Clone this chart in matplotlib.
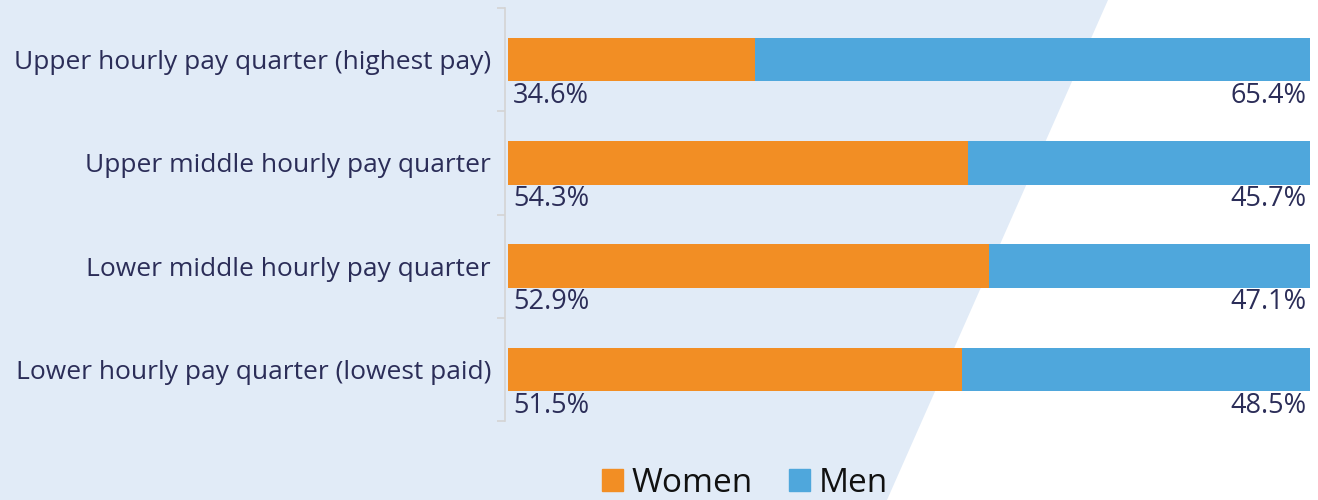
import matplotlib.pyplot as plt
from matplotlib.patches import Polygon, Rectangle

# categories, top to bottom
quarters = [
    "Upper hourly pay quarter (highest pay)",
    "Upper middle hourly pay quarter",
    "Lower middle hourly pay quarter",
    "Lower hourly pay quarter (lowest paid)",
]
# printed labels
women_pct = [34.6, 54.3, 52.9, 51.5]
men_pct = [65.4, 45.7, 47.1, 48.5]
# bar lengths as drawn in the picture (women share of the full bar)
women_bar = [30.8, 57.4, 60.0, 56.6]
men_bar = [100 - w for w in women_bar]

ORANGE = "#f28e24"
BLUE = "#4fa7dc"
NAVY = "#2b2d58"
BG = "#e1ebf7"

plt.rcParams["font.family"] = ["Open Sans", "DejaVu Sans"]

W, H = 1318, 500
fig = plt.figure(figsize=(W / 100, H / 100), dpi=100)
fig.patch.set_facecolor("white")

# light blue slanted backdrop, in its own axes behind everything
bg = fig.add_axes([0, 0, 1, 1], zorder=0)
bg.set_xlim(0, 1)
bg.set_ylim(0, 1)
bg.axis("off")
bg.add_patch(Polygon([(0, 0), (887 / W, 0), (1108 / W, 1), (0, 1)],
                     closed=True, facecolor=BG, edgecolor="none"))

ax = fig.add_axes([505 / W, (H - 421) / H, 805 / W, 413 / H], zorder=2)
ax.patch.set_alpha(0)

y = list(range(len(quarters)))
ax.barh(y, women_bar, height=0.42, color=ORANGE, left=0)
ax.barh(y, men_bar, height=0.42, color=BLUE, left=women_bar)

for i in y:
    ax.text(0.6, i + 0.35, f"{women_pct[i]:.1f}%", ha="left", va="center",
            fontsize=19.5, color=NAVY)
    ax.text(99.6, i + 0.35, f"{men_pct[i]:.1f}%", ha="right", va="center",
            fontsize=19.5, color=NAVY)

ax.set_xlim(-0.4, 100)
ax.set_ylim(3.5, -0.5)
ax.set_xticks([])
ax.set_yticks(y)
ax.set_yticklabels(quarters, fontsize=19, color=NAVY)
ax.tick_params(axis="y", which="major", length=0, pad=10)
ax.set_yticks([-0.5, 0.5, 1.5, 2.5, 3.5], minor=True)
ax.tick_params(axis="y", which="minor", length=6, color="#d4d4d4", width=1.2)
for s in ["top", "right", "bottom"]:
    ax.spines[s].set_visible(False)
ax.spines["left"].set_color("#d4d4d4")
ax.spines["left"].set_linewidth(1.2)

# legend at the bottom
handles = [Rectangle((0, 0), 1, 1, color=ORANGE), Rectangle((0, 0), 1, 1, color=BLUE)]
leg = fig.legend(handles, ["Women", "Men"], loc="center", bbox_to_anchor=(745 / W, 1 - 483 / H),
                 ncol=2, frameon=False, fontsize=24, handlelength=0.62, handleheight=0.62,
                 handletextpad=0.25, columnspacing=1.1, labelcolor="#111111")
leg.set_zorder(3)

fig.savefig("out.png", dpi=100)
